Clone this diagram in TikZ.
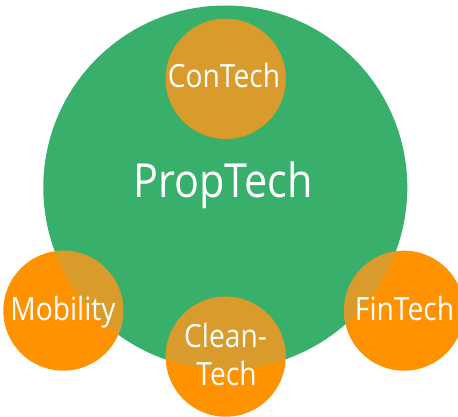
\documentclass[tikz,border=0pt]{standalone}
\usepackage{fontspec}
\setmainfont[FakeStretch=0.88]{Open Sans}
\definecolor{ptgreen}{RGB}{56,176,108}
\definecolor{ptorange}{RGB}{255,146,0}
\definecolor{ptmix}{RGB}{216,155,44}
\tikzset{
  lbl/.style={text=white, anchor=base, inner sep=0pt, font=\fontsize{32}{38}\selectfont},
  biglbl/.style={text=white, anchor=base, inner sep=0pt, font=\fontsize{47}{56}\selectfont}
}
\begin{document}
\begin{tikzpicture}[x=1pt,y=-1pt]
\useasboundingbox (0,0) rectangle (458,417);
\begin{scope}
\clip (0,0) rectangle (458,417);
% big circle
\fill[ptgreen] (225.3,187.5) circle (182);
% small circles
\foreach \p in {(225.7,78.8),(63.3,310.7),(225.7,356.7),(404,310.7)}
  \fill[ptorange] \p circle (60);
% overlaps
\begin{scope}
\clip (225.3,187.5) circle (182);
\foreach \p in {(225.7,78.8),(63.3,310.7),(225.7,356.7),(404,310.7)}
  \fill[ptmix] \p circle (60);
\end{scope}
\end{scope}
\node[lbl] (con) at (224,87.5) {ConTech};
\node[biglbl] (prop) at (223,197.5) {PropTech};
\node[lbl] (mob) at (63,320) {Mobility};
\node[lbl] (fin) at (404.5,320) {FinTech};
\node[lbl] (clean1) at (225.5,347) {Clean-};
\node[lbl] (clean2) at (226.5,385) {Tech};
\end{tikzpicture}
\end{document}
